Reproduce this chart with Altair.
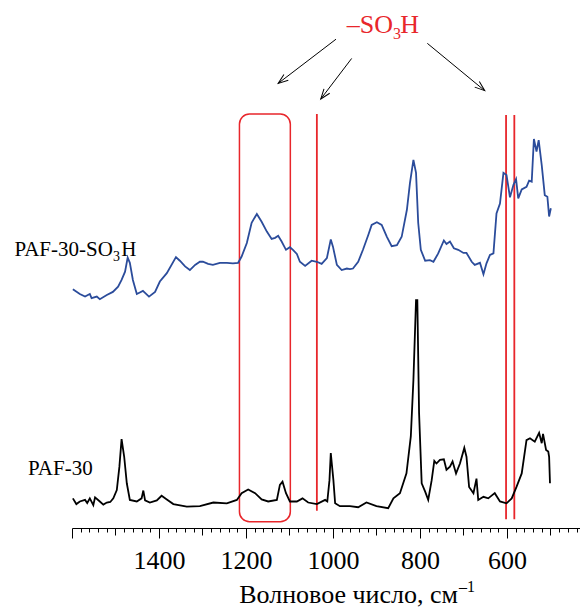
import math
import pandas as pd
import altair as alt

# ---------------- data ----------------
wn_sulfo = [1598, 1582, 1570, 1559, 1555, 1543, 1536, 1520, 1506, 1494, 1486, 1478, 1472, 1467, 1460,
            1451, 1444, 1437, 1432, 1423, 1409, 1398, 1382, 1361, 1352, 1340, 1329, 1317, 1306, 1299,
            1287, 1276, 1260, 1244, 1230, 1218, 1210, 1198, 1187, 1175, 1164, 1152, 1141, 1133, 1126,
            1118, 1108, 1099, 1092, 1083, 1076, 1064, 1049, 1037, 1026, 1014, 1005, 1000, 991, 980,
            968, 961, 954, 942, 931, 919, 911, 899, 888, 876, 865, 853, 842, 830, 823,
            815, 809, 804, 798, 788, 777, 769, 758, 745, 739, 731, 722, 712, 700, 693,
            681, 674, 662, 654, 647, 639, 631, 624, 616, 608, 601, 593, 585, 579, 574,
            566, 555, 549, 543, 538, 532, 527, 520, 513, 507, 503, 499]
int_sulfo = [45.9, 45.0, 44.5, 45.0, 44.2, 44.5, 44.0, 44.8, 45.4, 46.4, 47.7, 49.3, 52.0, 51.0, 47.7,
             45.0, 45.3, 45.6, 45.2, 44.5, 45.4, 47.4, 49.0, 52.1, 51.4, 50.3, 49.6, 50.6, 51.2, 51.2,
             50.8, 50.6, 51.0, 51.0, 50.9, 51.0, 52.2, 54.8, 58.7, 60.4, 58.9, 57.0, 55.6, 55.8, 56.2,
             55.1, 53.5, 54.0, 53.5, 52.7, 51.2, 50.4, 51.4, 51.2, 50.8, 51.9, 55.5, 54.1, 50.6, 49.6,
             49.9, 49.8, 49.9, 51.2, 53.5, 56.3, 58.3, 58.8, 58.3, 56.0, 54.2, 54.4, 56.0, 61.2, 66.3,
             70.8, 68.3, 58.7, 53.5, 51.4, 51.5, 51.2, 52.8, 55.3, 54.6, 55.1, 53.8, 53.5, 52.9, 52.9,
             51.2, 50.6, 51.0, 48.8, 50.9, 52.5, 52.8, 60.5, 62.4, 68.3, 67.9, 63.6, 66.0, 67.1, 63.4,
             65.1, 65.6, 66.8, 66.6, 74.8, 72.4, 74.6, 69.8, 64.0, 63.7, 59.9, 61.5]

wn_base = [1598, 1590, 1582, 1570, 1565, 1559, 1551, 1547, 1536, 1528, 1520, 1512, 1505, 1497, 1491,
           1486, 1480, 1474, 1467, 1451, 1440, 1436, 1432, 1421, 1405, 1394, 1382, 1367, 1336, 1306,
           1275, 1244, 1221, 1210, 1195, 1179, 1164, 1149, 1129, 1122, 1116, 1108, 1099, 1083, 1070,
           1057, 1037, 1018, 1013, 1008, 1005, 999, 995, 984, 961, 942, 923, 900, 873, 861,
           846, 831, 821, 815, 809, 806, 802, 796, 788, 781, 773, 767, 762, 754, 745,
           739, 731, 725, 717, 708, 698, 693, 687, 677, 670, 666, 654, 643, 628, 616,
           601, 589, 578, 566, 555, 547, 536, 526, 520, 517, 510, 505, 503, 501]
int_base = [5.7, 4.6, 5.1, 5.4, 4.8, 5.7, 4.4, 5.9, 5.1, 4.5, 4.9, 5.0, 5.7, 7.3, 11.8,
            17.1, 13.7, 8.6, 5.4, 5.1, 5.7, 7.2, 5.3, 4.9, 5.3, 6.2, 5.5, 4.6, 4.1, 4.2,
            4.9, 4.75, 5.4, 6.7, 7.4, 6.7, 5.5, 5.1, 5.4, 8.3, 8.9, 6.7, 5.1, 5.1, 5.7,
            4.9, 4.6, 5.4, 5.1, 9.2, 14.4, 9.2, 4.75, 4.2, 4.2, 4.0, 4.9, 4.2, 3.8, 5.7,
            6.7, 10.5, 17.6, 28.5, 43.8, 43.8, 22.1, 8.6, 7.0, 5.4, 9.2, 12.9, 12.4, 13.1, 13.2,
            11.2, 11.8, 12.8, 10.5, 12.4, 15.4, 13.7, 7.9, 6.7, 9.5, 5.4, 6.0, 5.7, 6.7, 5.1,
            4.75, 5.7, 7.9, 10.5, 16.9, 17.25, 16.6, 18.3, 16.3, 18.1, 15.0, 14.7, 13.7, 8.6]

series_names = ["PAF-30-SO3H", "PAF-30"]

# highlighted bands (-SO3H)
box_wn = [1215, 1098]
box_int = [79.6, 1.2]
line_wn = [1037, 602, 583]
line_top = [79.6, 79.4, 79.4]
line_bot = [3.3, 1.7, 1.7]

# arrows: start (wn, int) -> end (wn, int)
arr_x1 = [993, 957, 783]
arr_y1 = [94.0, 90.3, 93.2]
arr_x2 = [1126, 1028, 651]
arr_y2 = [85.5, 82.5, 84.1]

tick_values = list(range(440, 1601, 20))

# ---------------- layout ----------------
W, H = 508, 520
X0, X1 = 1600, 432
RED = "#e8262b"
BLUE = "#2b4c9b"
FONT = "Times New Roman, Liberation Serif, serif"
kx = W / (X0 - X1)
ky = H / 100.0

rows = []
for i, (w, v) in enumerate(zip(wn_sulfo, int_sulfo)):
    rows.append({"x": w, "y": v, "s": series_names[0], "o": i})
for i, (w, v) in enumerate(zip(wn_base, int_base)):
    rows.append({"x": w, "y": v, "s": series_names[1], "o": i})
spec_df = pd.DataFrame(rows)

xaxis = alt.Axis(
    values=tick_values,
    labelExpr="(datum.value % 200 === 0 && datum.value < 1600) ? datum.label : ''",
    format="d",
    tickSize={"condition": [{"test": "datum.value % 200 === 0", "value": 10},
                            {"test": "datum.value % 100 === 0", "value": 7}],
              "value": 4},
    labelFont=FONT, labelFontSize=26, labelColor="black", labelPadding=9,
    labelOverlap=False, labelFlush=False,
    domainColor="black", tickColor="black", domainWidth=1, tickWidth=1,
    grid=False, title=None,
)
X = alt.X("x:Q", scale=alt.Scale(domain=[X0, X1], zero=False, nice=False), axis=xaxis)
Y = alt.Y("y:Q", scale=alt.Scale(domain=[0, 100], zero=False, nice=False), axis=None)

lines = alt.Chart(spec_df).mark_line(strokeWidth=1.8).encode(
    x=X, y=Y, order="o:Q",
    color=alt.Color("s:N", scale=alt.Scale(domain=series_names, range=[BLUE, "black"]), legend=None),
)

box_df = pd.DataFrame({"x": [box_wn[0]], "x2": [box_wn[1]], "y": [box_int[0]], "y2": [box_int[1]]})
box = alt.Chart(box_df).mark_rect(fillOpacity=0, stroke=RED, strokeWidth=1.5, cornerRadius=10).encode(
    x=X, x2="x2:Q", y=Y, y2="y2:Q")

rule_df = pd.DataFrame({"x": line_wn, "y": line_top, "y2": line_bot})
rules = alt.Chart(rule_df).mark_rule(color=RED, strokeWidth=1.8).encode(x=X, y=Y, y2="y2:Q")

arr_df = pd.DataFrame({"x": arr_x1, "y": arr_y1, "x2": arr_x2, "y2": arr_y2})
arrows = alt.Chart(arr_df).mark_rule(color="black", strokeWidth=1).encode(x=X, x2="x2:Q", y=Y, y2="y2:Q")

heads = []
for a, b, c, d in zip(arr_x1, arr_y1, arr_x2, arr_y2):
    dx = -(c - a) * kx
    dy = -(d - b) * ky
    ang = math.degrees(math.atan2(dx, -dy)) % 360
    heads.append({"x": c, "y": d, "ang": ang})
head_df = pd.DataFrame(heads)
head = alt.Chart(head_df).mark_point(
    shape="M -0.36 1 L 0 0 L 0.36 1", filled=False, stroke="black", strokeWidth=1, size=400, opacity=1
).encode(x=X, y=Y, angle=alt.Angle("ang:Q", scale=None))


def label(x, y, t, size, align, color):
    return alt.Chart(pd.DataFrame({"x": [x], "y": [y], "t": [t]})).mark_text(
        font=FONT, fontSize=size, align=align, baseline="alphabetic", color=color
    ).encode(x=X, y=Y, text="t:N")


t1 = label(1506, 52.3, "PAF-30-SO", 21, "right", "black")
t1s = label(1506, 51.4, "3", 14, "left", "black")
t1h = label(1487, 52.3, "H", 21, "left", "black")
t2 = label(1701, 10.2, "PAF-30", 21, "left", "black")
r1 = label(862, 95.1, "–SO", 26, "right", RED)
r1s = label(862, 94.0, "3", 16, "left", RED)
r1h = label(845, 95.1, "H", 26, "left", RED)

# axis title (pixel-positioned annotation)
ttl = alt.Chart(pd.DataFrame({"t": ["Волновое число, см"]})).mark_text(
    font=FONT, fontSize=26, align="right", baseline="alphabetic", color="black").encode(
    x=alt.value(386), y=alt.value(595), text="t:N")
sup = alt.Chart(pd.DataFrame({"t": ["–1"]})).mark_text(
    font=FONT, fontSize=16, align="left", baseline="alphabetic", color="black").encode(
    x=alt.value(387), y=alt.value(584), text="t:N")

chart = alt.layer(
    box, rules, lines, arrows, head, t1, t1s, t1h, t2, r1, r1s, r1h, ttl, sup
).properties(
    width=W, height=H,
    autosize=alt.AutoSizeParams(type="none"),
    padding={"left": 64, "top": 0, "right": 0, "bottom": 83},
).configure_view(strokeWidth=0)

chart.save("out.html", embed_options={"renderer": "svg", "actions": False})
